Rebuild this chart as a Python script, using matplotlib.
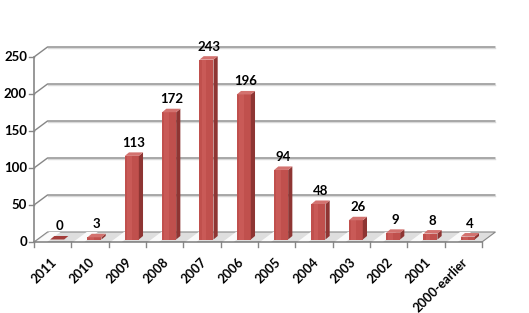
import matplotlib
matplotlib.use("Agg")
import matplotlib.pyplot as plt
from matplotlib.patches import Polygon

categories = ["2011", "2010", "2009", "2008", "2007", "2006", "2005",
              "2004", "2003", "2002", "2001", "2000-earlier"]
values = [0, 3, 113, 172, 243, 196, 94, 48, 26, 9, 8, 4]
yticks = [0, 50, 100, 150, 200, 250]

W, H = 529, 313
fig = plt.figure(figsize=(W / 100, H / 100), dpi=100)
PXC = 37.33   # px per category
PXV = 0.74    # px per value unit
x0, y0 = 34, 242
ax = fig.add_axes([x0 / W, (H - y0) / H, (522 - x0) / W, (y0 - 28) / H])
ax.set_xlim(0, (522 - x0) / PXC)
ax.set_ylim(0, (y0 - 28) / PXV)
ax.axis("off")

DX, DY = 13.5 / PXC, 10 / PXV      # floor depth
FX, FY = 4.5 / PXC, 2.5 / PXV      # bar front offset
BX, BY = 4.2 / PXC, 3.5 / PXV      # bar depth
BW = 14 / PXC
n = len(categories)
fontfam = ["Lato", "DejaVu Sans"]
gridc = "#868686"

# back wall gridlines
for v in yticks:
    if v > 0:
        ax.plot([0, DX, n + DX], [v, v + DY, v + DY], color=gridc, lw=1.0,
                clip_on=False, zorder=1, solid_capstyle="butt")
        ax.plot([DX, n + DX], [v + DY - 1.2, v + DY - 1.2], color="#d9d9d9", lw=1.0,
                clip_on=False, zorder=0.9)
    ax.plot([-5 / PXC, 0], [v, v], color=gridc, lw=1.0, clip_on=False)
    ax.text(-7 / PXC, v, str(v), ha="right", va="center", fontsize=9.5,
            fontweight="bold", family=fontfam)

# floor
floor = Polygon([(0, 0), (n, 0), (n + DX, DY), (DX, DY)], closed=True,
                facecolor="#dedede", edgecolor=gridc, lw=0.8, zorder=1)
ax.add_patch(floor)
for i in range(n):
    stripe = Polygon([(i + 0.05, 0), (i + 0.35, 0), (i + 0.35 + DX, DY), (i + 0.05 + DX, DY)],
                     closed=True, facecolor="#fafafa", edgecolor="none", zorder=1.1)
    ax.add_patch(stripe)

# axes lines
ax.plot([0, 0], [0, yticks[-1]], color=gridc, lw=1.2, clip_on=False, zorder=2)
ax.plot([0, n], [0, 0], color=gridc, lw=1.2, clip_on=False, zorder=2)
for i in range(n + 1):
    ax.plot([i, i], [0, -5 / PXV], color=gridc, lw=1.0, clip_on=False)

# bars
lefts = [i + 0.5 - BW / 2 + FX for i in range(n)]
ax.bar(lefts, values, width=BW, bottom=FY, align="edge", color="#C0504D",
       edgecolor="none", zorder=3)
# subtle highlight strip on front faces
ax.bar([L + BW * 0.15 for L in lefts], values, width=BW * 0.35, bottom=FY, align="edge",
       color="#c95a57", edgecolor="none", zorder=3.1)
for L, v in zip(lefts, values):
    top = FY + v
    side = Polygon([(L + BW, FY), (L + BW + BX, FY + BY), (L + BW + BX, top + BY), (L + BW, top)],
                   closed=True, facecolor="#8e3533", edgecolor="none", zorder=3)
    lid = Polygon([(L, top), (L + BW, top), (L + BW + BX, top + BY), (L + BX, top + BY)],
                  closed=True, facecolor="#a33d3a" if v == 0 else "#d3726f",
                  edgecolor="none", zorder=3.2)
    ax.add_patch(side)
    ax.add_patch(lid)
    ax.text(L + BW / 2 + BX / 2, top + BY + 3.5 / PXV, str(v), ha="center", va="bottom",
            fontsize=9.5, fontweight="bold", family=fontfam)

# category labels
for i, c in enumerate(categories):
    ax.text(i + 0.45, -14 / PXV, c, rotation=45, ha="right", va="top",
            rotation_mode="anchor", fontsize=9.2, fontweight="bold", family=fontfam)

fig.savefig("out.png", dpi=100, facecolor="white")
